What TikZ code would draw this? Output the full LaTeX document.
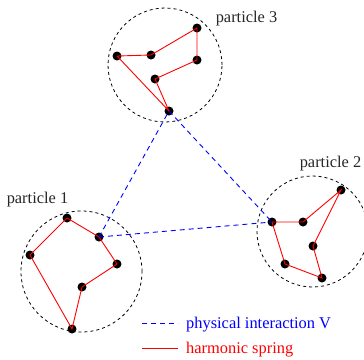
\documentclass[tikz,border=0pt]{standalone}
\usepackage{fontspec}
\setmainfont{Liberation Serif}
\usepackage{xcolor}
\usetikzlibrary{positioning}

\begin{document}
\begin{tikzpicture}[x=1pt, y=-1pt,
  blob/.style   = {draw=black, circle, inner sep=0pt, minimum size=#1,
                   line width=0.8pt, dash pattern=on 3pt off 3pt},
  bead/.style   = {circle, fill=black, inner sep=0pt, minimum size=9pt},
  spring/.style = {draw=red, line width=0.9pt},
  inter/.style  = {draw=blue, line width=0.9pt, dash pattern=on 5pt off 4pt},
  lbl/.style    = {font=\fontsize{16.4}{19}\selectfont, inner sep=0pt,
                   text=black!85},
]
\useasboundingbox (0,0) rectangle (364,359);

% particle 3
\node[blob=114pt] (blob3) at (165,65) {};
\node[bead] (p3a) at (117,56) {};
\node[bead] (p3b) at (151,55) {};
\node[bead] (p3c) at (197,28) {};
\node[bead] (p3d) at (197,60) {};
\node[bead] (p3e) at (155,79) {};
\node[bead] (p3f) at (169,111) {};
\node[lbl] (lab3) at (246.5,19) {particle 3};

% particle 2
\node[blob=111pt] (blob2) at (312.5,231.5) {};
\node[bead] (p2a) at (272,222) {};
\node[bead] (p2b) at (303,222) {};
\node[bead] (p2c) at (341,190) {};
\node[bead] (p2d) at (313,246) {};
\node[bead] (p2e) at (322,278) {};
\node[bead] (p2f) at (285,264) {};
\node[lbl] (lab2) at (330.5,164) {particle 2};

% particle 1
\node[blob=121pt] (blob1) at (81.5,271.5) {};
\node[bead] (p1a) at (67,218) {};
\node[bead] (p1b) at (99,237) {};
\node[bead] (p1c) at (117,264) {};
\node[bead] (p1d) at (82,287) {};
\node[bead] (p1e) at (72,329) {};
\node[bead] (p1f) at (30,255) {};
\node[lbl] (lab1) at (37.5,200) {particle 1};

% harmonic springs
\draw[spring] (p3a.center) -- (p3b.center) -- (p3c.center) -- (p3d.center)
  -- (p3e.center) -- (p3f.center) -- (p3a.center);
\draw[spring] (p2a.center) -- (p2b.center) -- (p2c.center) -- (p2d.center)
  -- (p2e.center) -- (p2f.center) -- (p2a.center);
\draw[spring] (p1a.center) -- (p1b.center) -- (p1c.center) -- (p1d.center)
  -- (p1e.center) -- (p1f.center) -- (p1a.center);

% interactions
\draw[inter] (p1b.center) -- (p3f.center);
\draw[inter] (p3f.center) -- (p2a.center);
\draw[inter] (p1b.center) -- (p2a.center);

% legend
\coordinate (legA) at (142,323);
\coordinate (legB) at (178,323);
\coordinate (legC) at (142,348);
\coordinate (legD) at (178,348);
\draw[inter] (legA) -- (legB);
\draw[spring] (legC) -- (legD);
\node[lbl, text=blue, anchor=west] (legtxt1) at (186,324.5) {physical interaction V};
\node[lbl, text=red, anchor=west] (legtxt2) at (186,349.5) {harmonic spring};
\end{tikzpicture}
\end{document}
